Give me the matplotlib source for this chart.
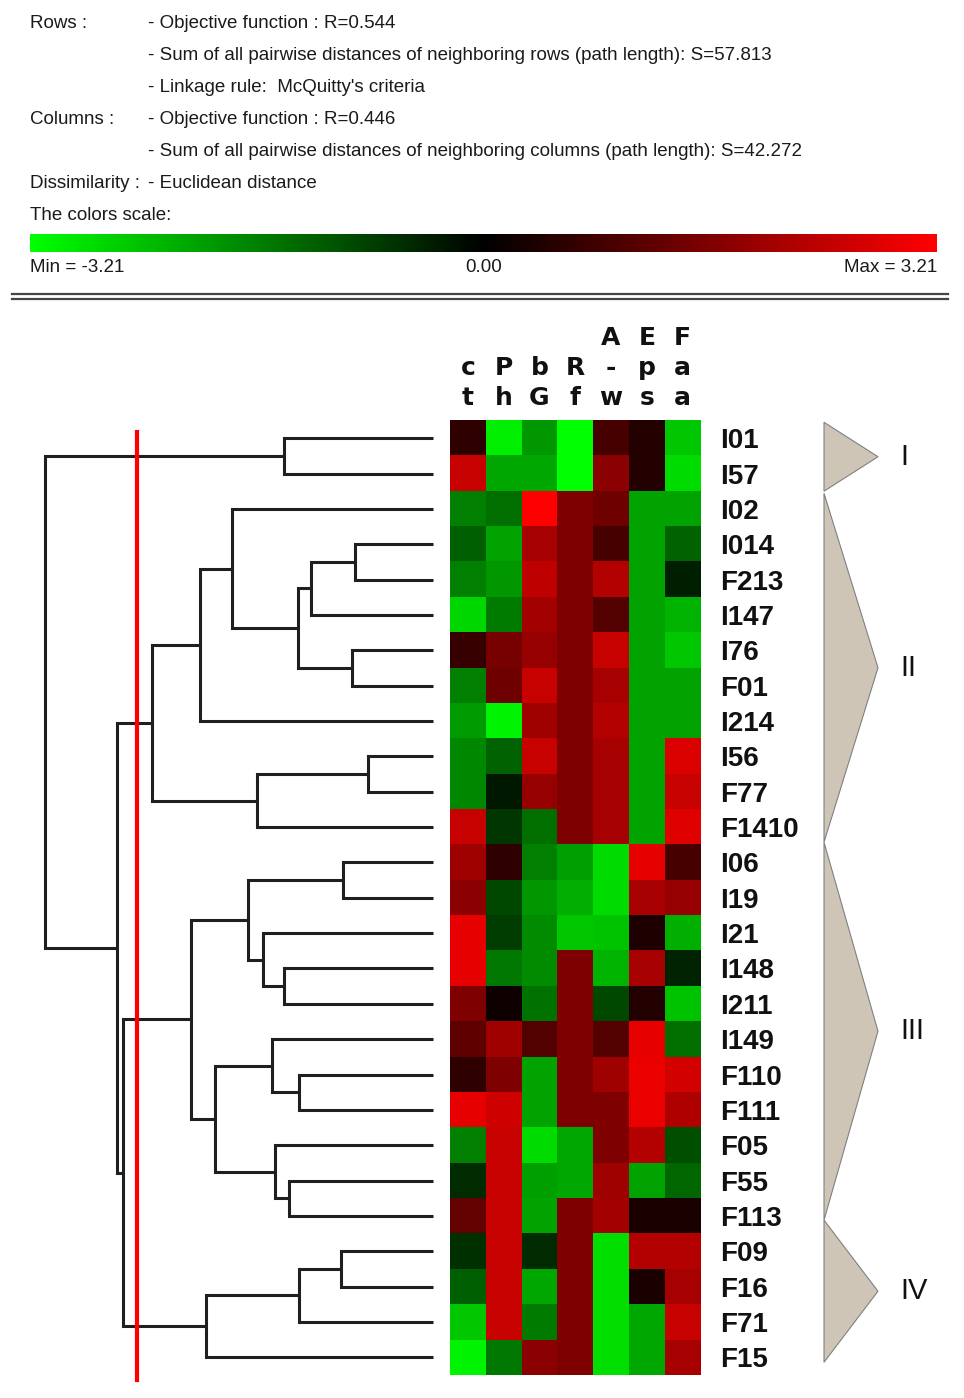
import numpy as np
import matplotlib.pyplot as plt
import matplotlib as mpl
from matplotlib.colors import LinearSegmentedColormap, Normalize
from matplotlib.patches import Polygon
from matplotlib.lines import Line2D

W, H = 964, 1398

rows = ['I01', 'I57', 'I02', 'I014', 'F213', 'I147', 'I76', 'F01', 'I214',
        'I56', 'F77', 'F1410', 'I06', 'I19', 'I21', 'I148', 'I211', 'I149',
        'F110', 'F111', 'F05', 'F55', 'F113', 'F09', 'F16', 'F71', 'F15']
cols = ['ct', 'Ph', 'bG', 'Rf', 'A-w', 'Eps', 'Faa']

values = np.array([
    [0.6, -3.0, -1.9, -3.2, 0.9, 0.45, -2.5],      # I01
    [2.5, -2.1, -2.1, -3.2, 1.75, 0.45, -2.75],    # I57
    [-1.6, -1.4, 3.2, 1.6, 1.4, -2.05, -2.05],     # I02
    [-1.2, -2.05, 2.1, 1.6, 0.9, -2.05, -1.25],    # I014
    [-1.6, -1.9, 2.4, 1.6, 2.25, -2.05, -0.4],     # F213
    [-2.7, -1.55, 2.05, 1.6, 1.05, -2.05, -2.25],  # I147
    [0.7, 1.5, 1.9, 1.6, 2.5, -2.05, -2.5],        # I76
    [-1.6, 1.4, 2.5, 1.6, 2.1, -2.05, -2.05],      # F01
    [-1.95, -3.05, 2.0, 1.6, 2.25, -2.05, -2.05],  # I214
    [-1.7, -1.25, 2.5, 1.6, 2.1, -2.05, 2.75],     # I56
    [-1.7, -0.3, 1.9, 1.6, 2.1, -2.05, 2.5],       # F77
    [2.5, -0.7, -1.4, 1.6, 2.1, -2.05, 2.8],       # F1410
    [2.0, 0.6, -1.6, -2.0, -2.75, 2.9, 0.9],       # I06
    [1.75, -0.9, -1.9, -2.2, -2.75, 2.1, 1.9],     # I19
    [2.9, -0.75, -1.75, -2.5, -2.45, 0.4, -2.2],   # I21
    [2.9, -1.5, -1.75, 1.6, -2.25, 2.1, -0.45],    # I148
    [1.6, 0.2, -1.45, 1.6, -0.9, 0.45, -2.45],     # I211
    [1.2, 2.0, 1.05, 1.6, 1.05, 2.9, -1.4],        # I149
    [0.6, 1.6, -2.05, 1.6, 2.0, 2.95, 2.65],       # F110
    [2.9, 2.6, -2.05, 1.6, 1.6, 2.95, 2.2],        # F111
    [-1.6, 2.5, -2.75, -2.1, 1.6, 2.25, -1.0],     # F05
    [-0.55, 2.5, -2.0, -2.1, 2.0, -2.05, -1.3],    # F55
    [1.25, 2.5, -2.05, 1.6, 2.05, 0.35, 0.35],     # F113
    [-0.6, 2.5, -0.55, 1.6, -2.8, 2.25, 2.25],     # F09
    [-1.2, 2.5, -2.1, 1.6, -2.8, 0.35, 2.1],       # F16
    [-2.5, 2.5, -1.55, 1.6, -2.8, -2.1, 2.5],      # F71
    [-3.05, -1.5, 1.75, 1.6, -2.8, -2.1, 2.1],     # F15
])
vmin, vmax = -3.21, 3.21

# merges: (a, b, height); ints point at earlier merges
merges = [
    ('I01', 'I57', 3.72),    # 0
    ('I014', 'F213', 1.95),  # 1
    (1, 'I147', 3.05),       # 2
    ('I76', 'F01', 2.02),    # 3
    (2, 3, 3.38),            # 4
    ('I02', 4, 5.02),        # 5
    (5, 'I214', 5.82),       # 6
    ('I56', 'F77', 1.62),    # 7
    (7, 'F1410', 4.40),      # 8
    (6, 8, 7.02),            # 9
    ('I06', 'I19', 2.25),    # 10
    ('I148', 'I211', 3.72),  # 11
    ('I21', 11, 4.25),       # 12
    (10, 12, 4.62),          # 13
    ('F110', 'F111', 3.35),  # 14
    ('I149', 14, 4.02),      # 15
    ('F55', 'F113', 3.60),   # 16
    ('F05', 16, 3.95),       # 17
    (15, 17, 5.45),          # 18
    (13, 18, 6.05),          # 19
    ('F09', 'F16', 2.30),    # 20
    (20, 'F71', 3.35),       # 21
    (21, 'F15', 5.68),       # 22
    (19, 22, 7.75),          # 23
    (9, 23, 7.90),           # 24
    (0, 24, 9.70),           # 25
]
cut_height = 7.4

groups = ['I', 'II', 'III', 'IV']
group_spans = [(-0.45, 1.5), (1.56, 11.43), (11.43, 22.12), (22.12, 26.14)]

header = [
    ('Rows :', '- Objective function : R=0.544'),
    ('', '- Sum of all pairwise distances of neighboring rows (path length): S=57.813'),
    ('', "- Linkage rule:  McQuitty's criteria"),
    ('Columns :', '- Objective function : R=0.446'),
    ('', '- Sum of all pairwise distances of neighboring columns (path length): S=42.272'),
    ('Dissimilarity :', '- Euclidean distance'),
    ('The colors scale:', ''),
]


def box(x0, y0, x1, y1):
    # pixel box (top-left origin) -> figure fractions
    return [x0 / W, 1 - y1 / H, (x1 - x0) / W, (y1 - y0) / H]


cmap = LinearSegmentedColormap.from_list('gkr', ['#00ff00', '#000000', '#ff0000'])
norm = Normalize(vmin, vmax)

fig = plt.figure(figsize=(W / 100, H / 100), dpi=100)
hfont = dict(family='Liberation Sans', fontsize=13.5, color='#1a1a1a')

# header text
for i, (left, right) in enumerate(header):
    y = 1 - (23 + 32 * i) / H
    if left:
        fig.text(30 / W, y, left, va='center', ha='left', **hfont)
    if right:
        fig.text(148 / W, y, right, va='center', ha='left', **hfont)

# colour scale
cax = fig.add_axes(box(30, 234, 937, 252))
cb = mpl.colorbar.ColorbarBase(cax, cmap=cmap, norm=norm, orientation='horizontal')
cb.set_ticks([])
cb.outline.set_visible(False)
fig.text(30 / W, 1 - 268 / H, 'Min = %.2f' % vmin, va='center', ha='left', **hfont)
fig.text(cax.get_position().x0 + cax.get_position().width / 2, 1 - 268 / H, '0.00',
         va='center', ha='center', **hfont)
fig.text(937 / W, 1 - 268 / H, 'Max = %.2f' % vmax, va='center', ha='right', **hfont)

for yy in (294, 299):
    fig.add_artist(Line2D([12 / W, 948 / W], [1 - yy / H] * 2, color='#444444', lw=1.6))

# heatmap
top, bot = 420.5, 1375
ax = fig.add_axes(box(450, top, 700.5, bot))
ax.imshow(values, cmap=cmap, norm=norm, aspect='auto', interpolation='nearest')
ax.set_xticks([])
ax.yaxis.tick_right()
ax.set_yticks(range(len(rows)))
ax.set_yticklabels(rows, family='Liberation Sans', fontweight='bold', fontsize=20,
                   color='#111111')
ax.tick_params(axis='y', length=0, pad=14)
for s in ax.spines.values():
    s.set_visible(False)

levels = [-2.63, -1.78, -0.93]
for j, name in enumerate(cols):
    n = len(name)
    for k, ch in enumerate(name):
        ax.text(j, levels[3 - n + k], ch, ha='center', va='baseline',
                family='DejaVu Sans', fontweight='bold', fontsize=18,
                color='#111111', clip_on=False)

# dendrogram
axd = fig.add_axes(box(0, top, 450, bot))
axd.set_xlim(433 / 40, -17 / 40)
axd.set_ylim(len(rows) - 0.5, -0.5)
axd.axis('off')

pos = {name: (i, 0.0) for i, name in enumerate(rows)}
for k, (a, b, h) in enumerate(merges):
    ya, ha = pos[a]
    yb, hb = pos[b]
    axd.plot([ha, h, h, hb], [ya, ya, yb, yb], color='#1f1f1f', lw=2.2,
             solid_joinstyle='miter', solid_capstyle='butt')
    pos[k] = ((ya + yb) / 2, h)

axd.axvline(cut_height, ymin=-0.005, ymax=0.988, color='#ff0000', lw=3, clip_on=False)

# cluster triangles
axt = fig.add_axes(box(824, top, 878, bot))
axt.set_xlim(0, 1)
axt.set_ylim(len(rows) - 0.5, -0.5)
axt.axis('off')
for g, (y0, y1) in zip(groups, group_spans):
    ym = (y0 + y1) / 2
    axt.add_patch(Polygon([[0, y0], [1, ym], [0, y1]], closed=True,
                          facecolor='#cfc5b7', edgecolor='#808080', lw=0.8,
                          clip_on=False))
    axt.text(1.42, ym, g, ha='left', va='center', family='Liberation Sans',
             fontsize=21, color='#111111', clip_on=False)

fig.savefig('out.png', dpi=100)
